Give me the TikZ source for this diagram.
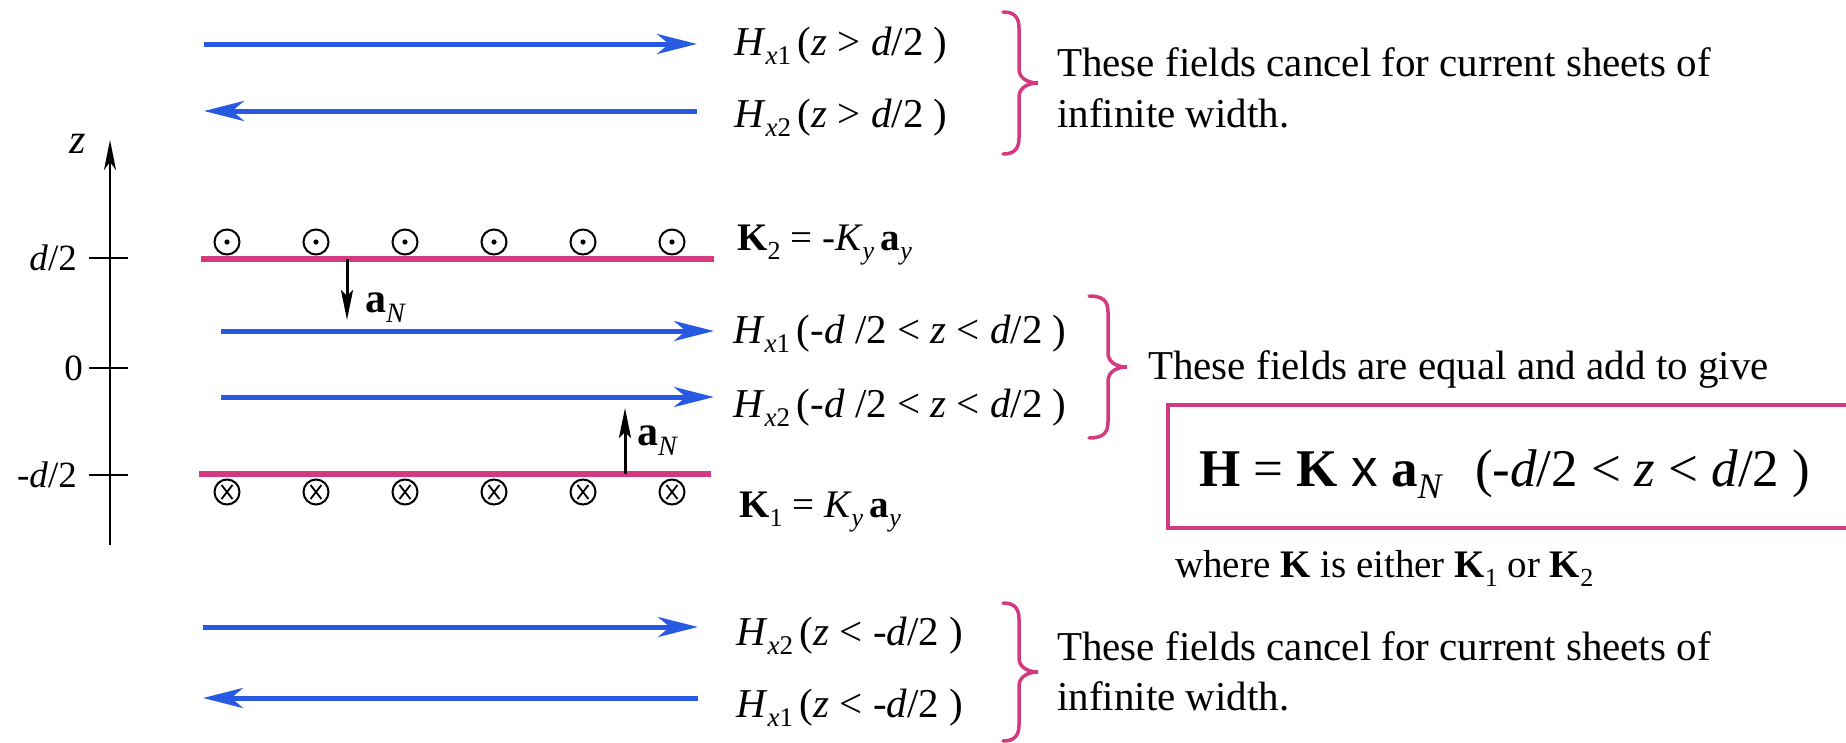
\documentclass[tikz,border=0pt]{standalone}
\usepackage{fontspec}
\setmainfont{Liberation Serif}
\newfontfamily\sansx{Liberation Sans}
\usetikzlibrary{arrows.meta}
\definecolor{fieldblue}{RGB}{40,90,225}
\definecolor{sheetpink}{RGB}{212,58,128}
\newcommand\sbx[2][27]{\raisebox{-0.24em}{\fontsize{#1}{#1}\selectfont #2}}
\newcommand\pinkbrace[5]{%
  \pgfmathsetmacro\bmid{(#4+#5)/2}%
  \draw[bracestyle] (#1,#4) .. controls ({#2-5},#4) and (#2,{#4+5}) .. (#2,{#4+16})
    -- (#2,{\bmid-14}) .. controls (#2,{\bmid-4}) and ({#3-9},\bmid) .. (#3,\bmid)
    .. controls ({#3-9},\bmid) and (#2,{\bmid+4}) .. (#2,{\bmid+14})
    -- (#2,{#5-16}) .. controls (#2,{#5-5}) and ({#2-5},#5) .. (#1,#5);}
\begin{document}
\begin{tikzpicture}[x=1pt,y=-1pt,
  field/.style={draw=fieldblue, line width=5pt, -{Stealth[length=40pt,width=20pt,inset=12pt]}},
  sheet/.style={draw=sheetpink, line width=6pt},
  normalvec/.style={draw=black, line width=3pt, -{Stealth[length=30pt,width=12pt,inset=6pt]}},
  axisline/.style={draw=black, line width=2.5pt, -{Stealth[length=30pt,width=12pt,inset=8pt]}},
  tick/.style={draw=black, line width=2.5pt},
  bracestyle/.style={draw=sheetpink, line width=3.5pt, line cap=round},
  lbl/.style={inner sep=0pt, anchor=base west, font=\fontsize{41}{49}\selectfont},
  hlbl/.style={inner sep=0pt, anchor=base west, font=\fontsize{41}{49}\selectfont},
  klbl/.style={inner sep=0pt, anchor=base west, font=\fontsize{39}{47}\selectfont},
  axl/.style={inner sep=0pt, anchor=base east, font=\fontsize{37}{44}\selectfont},
  vecl/.style={inner sep=0pt, anchor=base west, font=\fontsize{42}{50}\selectfont},
  curr/.style={draw=black, line width=2pt}
]
\useasboundingbox (0,0) rectangle (1846,742);

% z axis
\coordinate (zb) at (110,545);
\coordinate (zt) at (110,140);
\draw[axisline] (zb) -- (zt);
\node[inner sep=0pt, anchor=base, font=\fontsize{42}{48}\selectfont] (zl) at (78,153) {\textit{z}};
\foreach \n/\y in {tp/258, tz/368, tm/475}{
  \coordinate (\n a) at (89,\y);
  \coordinate (\n b) at (128,\y);
  \draw[tick] (\n a) -- (\n b);
}
\node[axl] (lp) at (77,270) {\textit{d}/2};
\node[axl] (lz) at (83,380) {0};
\node[axl] (lm) at (77,487) {-\textit{d}/2};

% field arrows
\coordinate (a1s) at (204,44);  \coordinate (a1e) at (697,44);
\coordinate (a2s) at (697,111); \coordinate (a2e) at (204,111);
\coordinate (a3s) at (221,331); \coordinate (a3e) at (714,331);
\coordinate (a4s) at (221,397); \coordinate (a4e) at (714,397);
\coordinate (a5s) at (203,627); \coordinate (a5e) at (698,627);
\coordinate (a6s) at (698,698); \coordinate (a6e) at (203,698);
\foreach \k in {1,...,6}{\draw[field] (a\k s) -- (a\k e);}

% current sheets
\coordinate (k2s) at (201,259); \coordinate (k2e) at (714,259);
\coordinate (k1s) at (199,474); \coordinate (k1e) at (711,474);
\draw[sheet] (k2s) -- (k2e);
\draw[sheet] (k1s) -- (k1e);

% currents out of page / into page
\foreach \i in {0,...,5}{
  \draw[curr] ({227+89*\i},242) circle[radius=12.5pt];
  \fill ({227+89*\i},242) circle[radius=2.6pt];
  \draw[curr] ({227+89*\i},492) circle[radius=12.5pt];
  \draw[line width=1.8pt] ({227+89*\i-5.5},{492-7}) -- ({227+89*\i+5.5},{492+7});
  \draw[line width=1.8pt] ({227+89*\i-5.5},{492+7}) -- ({227+89*\i+5.5},{492-7});
}

% normal vectors
\coordinate (n1s) at (347,259); \coordinate (n1e) at (347,320);
\coordinate (n2s) at (625,474); \coordinate (n2e) at (625,408);
\draw[normalvec] (n1s) -- (n1e);
\draw[normalvec] (n2s) -- (n2e);
\node[vecl] (an1) at (365,312) {\textbf{a}\sbx[28]{\textit{N}}};
\node[vecl] (an2) at (637,445) {\textbf{a}\sbx[28]{\textit{N}}};

% labels
\node[hlbl] (h1top) at (734,55) {\textit{H}\sbx{\textit{x}1}\,(\textit{z} > \textit{d}/2 )};
\node[hlbl] (h2top) at (734,127) {\textit{H}\sbx{\textit{x}2}\,(\textit{z} > \textit{d}/2 )};
\node[klbl] (k2) at (737,250) {\textbf{K}\sbx[26]{2} = -\textit{K}\sbx[26]{\textit{y}}\,\textbf{a}\sbx[26]{\textit{y}}};
\node[hlbl] (h1mid) at (733,343) {\textit{H}\sbx{\textit{x}1}\,(-\textit{d} /2 < \textit{z} < \textit{d}/2 )};
\node[hlbl] (h2mid) at (733,417) {\textit{H}\sbx{\textit{x}2}\,(-\textit{d} /2 < \textit{z} < \textit{d}/2 )};
\node[klbl] (k1) at (739,517) {\textbf{K}\sbx[26]{1} = \textit{K}\sbx[26]{\textit{y}}\,\textbf{a}\sbx[26]{\textit{y}}};
\node[hlbl] (h2bot) at (736,645) {\textit{H}\sbx{\textit{x}2}\,(\textit{z} < -\textit{d}/2 )};
\node[hlbl] (h1bot) at (736,717) {\textit{H}\sbx{\textit{x}1}\,(\textit{z} < -\textit{d}/2 )};

% braces
\pinkbrace{1003}{1019}{1038}{12}{154}
\pinkbrace{1089}{1108}{1127}{296}{438}
\pinkbrace{1003}{1019}{1038}{603}{741}

% explanations
\node[lbl] (t1a) at (1057,76) {These fields cancel for current sheets of};
\node[lbl] (t1b) at (1057,127) {infinite width.};
\node[lbl] (t2) at (1148,379) {These fields are equal and add to give};
\node[lbl] (t3a) at (1057,660) {These fields cancel for current sheets of};
\node[lbl] (t3b) at (1057,710) {infinite width.};

% result box
\coordinate (bx1) at (1168,405); \coordinate (bx2) at (1862,528);
\draw[draw=sheetpink, line width=3.5pt] (bx1) rectangle (bx2);
\node[lbl, font=\fontsize{53}{60}\selectfont] (eq) at (1199,486)
  {\textbf{H} = \textbf{K} {\sansx x} \textbf{a}\sbx[36]{\textit{N}}\hspace{0.6em}(-\textit{d}/2 < \textit{z} < \textit{d}/2 )};
\node[lbl, font=\fontsize{39}{44}\selectfont] (where) at (1175,577)
  {where \textbf{K} is either \textbf{K}\sbx[26]{1} or \textbf{K}\sbx[26]{2}};
\end{tikzpicture}
\end{document}
